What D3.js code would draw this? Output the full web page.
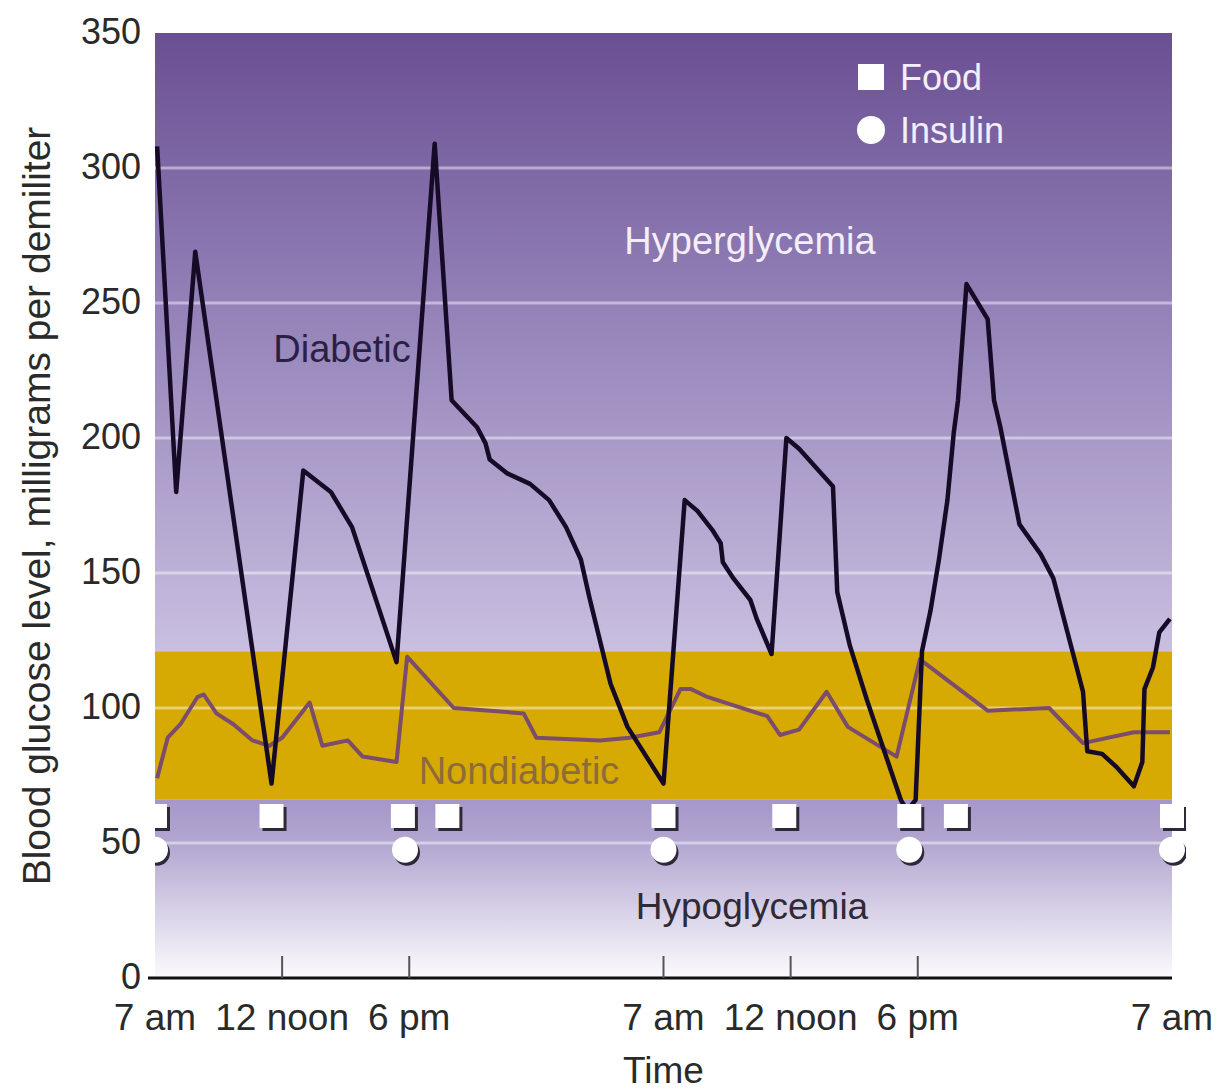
<!DOCTYPE html>
<html>
<head>
<meta charset="utf-8">
<script src="https://cdn.jsdelivr.net/npm/d3@7"></script>
<style>
  body { margin: 0; background: #fff; }
  text { font-family: "Liberation Sans", Arial, sans-serif; }
</style>
</head>
<body>
<div id="chart"></div>
<script>
// data (x = hours-like position, 0 = first 7 am, 48 = last 7 am)
var diabeticX = [0.1, 1.0, 1.9, 5.5, 7.0, 8.3, 9.3, 11.4, 13.2, 14.0, 15.2, 15.6, 15.8, 16.6, 17.7, 18.6, 19.4, 20.1, 20.5, 21.0, 21.5, 22.3, 24.0,
  25.0, 25.6, 26.3, 26.7, 26.8, 27.3, 28.1, 28.4, 29.1, 29.8, 30.4, 32.0, 32.2, 32.8, 33.6, 35.2, 35.5, 35.9, 36.2, 36.6, 37.0, 37.4, 37.7, 37.9, 38.3,
  39.3, 39.6, 39.9, 40.8, 41.8, 42.4, 43.3, 43.8, 44.0, 44.7, 45.4, 46.2, 46.6, 46.7, 47.1, 47.4, 47.9];
var diabeticY = [308, 180, 269, 72, 188, 180, 167, 117, 309, 214, 204, 198, 192, 187, 183, 177, 167, 155, 141, 125, 109, 93, 72,
  177, 173, 166, 161, 154, 148, 140, 133, 120, 200, 196, 182, 143, 123, 103, 66, 62, 66, 121, 136, 155, 177, 202, 214, 257,
  244, 214, 204, 168, 157, 148, 121, 106, 84, 83, 78, 71, 80, 107, 115, 128, 133];

var nondiabeticX = [0.1, 0.6, 1.2, 2.0, 2.3, 2.9, 3.7, 4.6, 5.4, 6.0, 7.3, 7.9, 9.1, 9.8, 10.6, 11.4, 11.9, 14.1, 17.4, 18.0, 21.0, 22.4, 23.8,
  24.8, 25.3, 26.1, 28.9, 29.5, 30.4, 31.7, 32.7, 35.0, 36.1, 39.3, 42.2, 43.8, 46.2, 47.9];
var nondiabeticY = [74, 89, 94, 104, 105, 98, 94, 88, 86, 89, 102, 86, 88, 82, 81, 80, 119, 100, 98, 89, 88, 89, 91,
  107, 107, 104, 97, 90, 92, 106, 93, 82, 118, 99, 100, 87, 91, 91];

var foodTimes = [0, 5.5, 11.7, 13.8, 24, 29.7, 35.6, 37.8, 48];
var insulinTimes = [0, 11.8, 24, 35.6, 48];

var xTicks = [0, 6, 12, 24, 30, 36, 48];
var xTickLabels = ["7 am", "12 noon", "6 pm", "7 am", "12 noon", "6 pm", "7 am"];
var yTicks = [0, 50, 100, 150, 200, 250, 300, 350];
var gridValues = [50, 100, 150, 200, 250, 300];
var normalRange = [66, 121];

var width = 1218, height = 1090;
var svg = d3.select("#chart")
  .append("svg")
  .attr("width", width)
  .attr("height", height);

var x = d3.scaleLinear().domain([0, 48]).range([155, 1172]);
var y = d3.scaleLinear().domain([0, 350]).range([978, 33]);

// //gradients for background
var defs = svg.append("defs");
var gTop = defs.append("linearGradient").attr("id", "gTop").attr("x1", 0).attr("x2", 0).attr("y1", 0).attr("y2", 1);
gTop.append("stop").attr("offset", "0%").attr("stop-color", "#6a4f93");
gTop.append("stop").attr("offset", "45%").attr("stop-color", "#9482b8");
gTop.append("stop").attr("offset", "100%").attr("stop-color", "#c9bfe0");
var gBot = defs.append("linearGradient").attr("id", "gBot").attr("x1", 0).attr("x2", 0).attr("y1", 0).attr("y2", 1);
gBot.append("stop").attr("offset", "0%").attr("stop-color", "#a597c9");
gBot.append("stop").attr("offset", "25%").attr("stop-color", "#b3a7d1");
gBot.append("stop").attr("offset", "100%").attr("stop-color", "#fcfbfd");
defs.append("clipPath").attr("id", "clip")
  .append("rect").attr("x", x(0)).attr("y", y(350)).attr("width", x(48) - x(0) + 14).attr("height", y(0) - y(350));

svg.append("rect")
  .attr("x", x(0)).attr("y", y(350))
  .attr("width", x(48) - x(0)).attr("height", y(normalRange[1]) - y(350))
  .attr("fill", "url(#gTop)");
svg.append("rect")
  .attr("x", x(0)).attr("y", y(normalRange[0]))
  .attr("width", x(48) - x(0)).attr("height", y(0) - y(normalRange[0]))
  .attr("fill", "url(#gBot)");
// //normal (nondiabetic) band
svg.append("rect")
  .attr("x", x(0)).attr("y", y(normalRange[1]))
  .attr("width", x(48) - x(0)).attr("height", y(normalRange[0]) - y(normalRange[1]))
  .attr("fill", "#d6aa02");

// //grid lines
svg.append("g")
  .selectAll("line")
  .data(gridValues)
  .join("line")
  .attr("x1", x(0)).attr("x2", x(48))
  .attr("y1", d => y(d)).attr("y2", d => y(d))
  .attr("stroke", "#ffffff")
  .attr("stroke-opacity", 0.45)
  .attr("stroke-width", 3);

// //region labels
svg.append("text").attr("x", 750).attr("y", y(268)).attr("text-anchor", "middle")
  .attr("font-size", 38).attr("fill", "#f3eefa").text("Hyperglycemia");
svg.append("text").attr("x", 342).attr("y", y(228)).attr("text-anchor", "middle")
  .attr("font-size", 38).attr("fill", "#2c1f47").text("Diabetic");
svg.append("text").attr("x", 519).attr("y", y(72)).attr("text-anchor", "middle")
  .attr("font-size", 38).attr("fill", "#8f6b3c").text("Nondiabetic");
svg.append("text").attr("x", 752).attr("y", y(22)).attr("text-anchor", "middle")
  .attr("font-size", 37).attr("fill", "#2f2a36").text("Hypoglycemia");

// //lines
var line = d3.line()
  .x(d => x(d[0]))
  .y(d => y(d[1]));
svg.append("path")
  .datum(d3.zip(nondiabeticX, nondiabeticY))
  .attr("d", line)
  .attr("fill", "none")
  .attr("stroke", "#7b4c6b")
  .attr("stroke-width", 4)
  .attr("stroke-linejoin", "round");
svg.append("path")
  .datum(d3.zip(diabeticX, diabeticY))
  .attr("d", line)
  .attr("fill", "none")
  .attr("stroke", "#160b26")
  .attr("stroke-width", 4.5)
  .attr("stroke-linejoin", "round");

// //food and insulin markers (with a small drop shadow)
var markers = svg.append("g").attr("clip-path", "url(#clip)");
markers.selectAll(".food-sh").data(foodTimes).join("rect")
  .attr("x", d => x(d) - 9).attr("y", y(60) - 9).attr("width", 24).attr("height", 24)
  .attr("fill", "#2e2838");
markers.selectAll(".food").data(foodTimes).join("rect")
  .attr("x", d => x(d) - 12).attr("y", y(60) - 12).attr("width", 24).attr("height", 24)
  .attr("fill", "#ffffff");
markers.selectAll(".ins-sh").data(insulinTimes).join("circle")
  .attr("cx", d => x(d) + 2).attr("cy", y(47.5) + 3).attr("r", 13)
  .attr("fill", "#2e2838");
markers.selectAll(".ins").data(insulinTimes).join("circle")
  .attr("cx", d => x(d)).attr("cy", y(47.5)).attr("r", 13)
  .attr("fill", "#ffffff");

// //legend
svg.append("rect").attr("x", 858).attr("y", 64).attr("width", 26).attr("height", 26).attr("fill", "#ffffff");
svg.append("circle").attr("cx", 871).attr("cy", 130).attr("r", 14).attr("fill", "#ffffff");
svg.append("text").attr("x", 900).attr("y", 90).attr("font-size", 36).attr("fill", "#f3eefa").text("Food");
svg.append("text").attr("x", 900).attr("y", 143).attr("font-size", 36).attr("fill", "#f3eefa").text("Insulin");

// //x axis
svg.append("line")
  .attr("x1", 148).attr("x2", x(48))
  .attr("y1", y(0)).attr("y2", y(0))
  .attr("stroke", "#111").attr("stroke-width", 3);
svg.append("g")
  .selectAll("line")
  .data(xTicks.slice(1, -1))
  .join("line")
  .attr("x1", d => x(d)).attr("x2", d => x(d))
  .attr("y1", y(0)).attr("y2", y(0) - 22)
  .attr("stroke", "#555").attr("stroke-width", 2);
svg.append("g")
  .selectAll("text")
  .data(xTicks)
  .join("text")
  .attr("x", d => x(d))
  .attr("y", 1030)
  .attr("text-anchor", "middle")
  .attr("font-size", 37)
  .attr("fill", "#2a2a2a")
  .text((d, i) => xTickLabels[i]);
svg.append("text").attr("x", x(24)).attr("y", 1083).attr("text-anchor", "middle")
  .attr("font-size", 37).attr("fill", "#2a2a2a").text("Time");

// //y axis labels
svg.append("g")
  .selectAll("text")
  .data(yTicks)
  .join("text")
  .attr("x", 141)
  .attr("y", d => y(d))
  .attr("dy", "0.3em")
  .attr("text-anchor", "end")
  .attr("font-size", 36)
  .attr("fill", "#2a2a2a")
  .text(d => d);
svg.append("text")
  .attr("transform", "translate(50," + 506 + ") rotate(-90)")
  .attr("text-anchor", "middle")
  .attr("font-size", 39)
  .attr("fill", "#2a2a2a")
  .text("Blood glucose level, milligrams per demiliter");
</script>
</body>
</html>
